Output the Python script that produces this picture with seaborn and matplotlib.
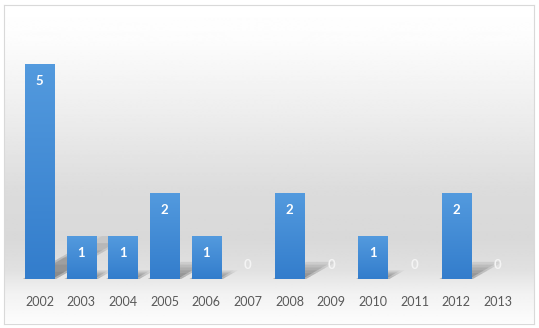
import numpy as np
import pandas as pd
import matplotlib
matplotlib.use("Agg")
import matplotlib.pyplot as plt
import seaborn as sns
from matplotlib.colors import LinearSegmentedColormap
from matplotlib.patheffects import AbstractPathEffect, Normal
from matplotlib.transforms import Affine2D

# data
years = ["2002", "2003", "2004", "2005", "2006", "2007",
         "2008", "2009", "2010", "2011", "2012", "2013"]
counts = [5, 1, 1, 2, 1, 0, 2, 0, 1, 0, 2, 0]

BAR_TOP = "#539ade"
BAR_BOTTOM = "#337dcc"
W, H = 539, 328


class PerspectiveShadow(AbstractPathEffect):
    """Soft slanted shadow cast behind a bar, like the office chart style."""

    def __init__(self, ax, slant=0.35, squash=0.2, alpha=0.06, steps=6):
        super().__init__()
        self.ax = ax
        self.slant = slant
        self.squash = squash
        self.alpha = alpha
        self.steps = steps

    def draw_path(self, renderer, gc, tpath, affine, rgbFace=None):
        yb = self.ax.transData.transform((0, 0))[1]
        gc0 = renderer.new_gc()
        gc0.copy_properties(gc)
        gc0.set_linewidth(0)
        gc0.set_alpha(self.alpha)
        for i in range(1, self.steps + 1):
            s = self.squash * i / self.steps
            k = self.slant * i / self.steps
            # small sideways spread to soften the edge
            for dx in (-2, 2):
                shear = Affine2D(np.array([[1, k, -k * yb + dx],
                                           [0, s, yb * (1 - s)],
                                           [0, 0, 1]]))
                renderer.draw_path(gc0, tpath, affine + shear, (0.25, 0.25, 0.25))
        gc0.restore()


def main():
    sns.set_theme(style="white")
    plt.rcParams["font.family"] = ["Lato", "DejaVu Sans"]

    df = pd.DataFrame({"year": years, "count": counts})

    fig = plt.figure(figsize=(W / 100, H / 100), dpi=100)
    fig.patch.set_facecolor("white")

    # background panel with a soft grey band and a thin border
    bg = fig.add_axes([3.5 / W, 4.5 / H, 530 / W, 319 / H], zorder=0)
    rows = np.arange(320)
    stops_y = [0, 35, 110, 190, 235, 265, 290, 320]
    stops_v = [1.0, 0.99, 0.93, 0.86, 0.85, 0.88, 0.95, 0.99]
    column = np.interp(rows, stops_y, stops_v).reshape(-1, 1)
    bg.imshow(column, cmap="gray", vmin=0, vmax=1, aspect="auto",
              extent=(0, 1, 0, 1), interpolation="bilinear")
    bg.set_xticks([])
    bg.set_yticks([])
    for sp in bg.spines.values():
        sp.set_color("#d9d9d9")
        sp.set_linewidth(0.8)

    ax = fig.add_axes([18.6 / W, 49 / H, 500 / W, 258 / H], zorder=1)
    ax.set_facecolor("none")
    sns.barplot(data=df, x="year", y="count", color=BAR_BOTTOM, width=0.7,
                linewidth=0, saturation=1, ax=ax)

    # gradient fill + slanted shadow on each bar
    cmap = LinearSegmentedColormap.from_list("bar", [BAR_BOTTOM, BAR_TOP])
    grad = np.linspace(0, 1, 64).reshape(-1, 1)
    for p in ax.patches:
        p.set_path_effects([PerspectiveShadow(ax), Normal()])
        h = p.get_height()
        if h <= 0:
            continue
        x0 = p.get_x()
        im = ax.imshow(grad, cmap=cmap, origin="lower", aspect="auto",
                       extent=(x0, x0 + p.get_width(), 0, h),
                       interpolation="bilinear", zorder=p.get_zorder() + 0.1)
        im.set_clip_path(p)
    ax.set_xlim(-0.5, 11.5)
    ax.set_ylim(0, 6)

    # data labels
    for p, v in zip(ax.patches, counts):
        ax.annotate(str(v), xy=(p.get_x() + p.get_width() / 2, p.get_height()),
                    xytext=(0, -17 if v > 0 else 14), textcoords="offset pixels",
                    ha="center", va="center", fontsize=9.5, fontweight="bold",
                    color="white" if v > 0 else "#f4f4f4", zorder=5)

    ax.set_xlabel("")
    ax.set_ylabel("")
    ax.set_yticks([])
    ax.tick_params(axis="x", length=0, pad=12, labelsize=9, labelcolor="#595959")
    sns.despine(ax=ax, left=True, bottom=True)

    fig.savefig("out.png", dpi=100)


if __name__ == "__main__":
    main()
